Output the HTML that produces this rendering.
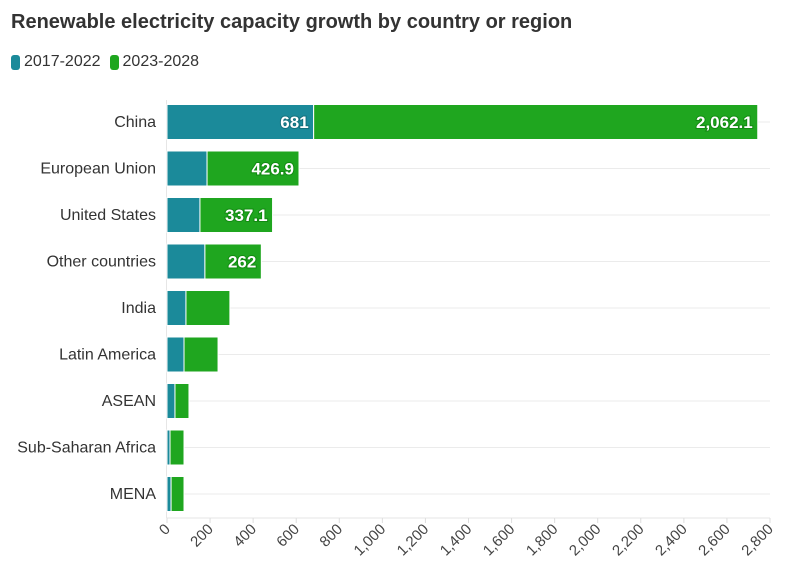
<!DOCTYPE html>
<html><head><meta charset="utf-8"><style>
body{margin:0;background:#fff;font-family:"Liberation Sans",sans-serif;}
#wrap{position:relative;width:796px;height:586px;overflow:hidden}
</style></head><body>
<div id="wrap">
<div style="position:absolute;left:11px;top:11px;font-size:20px;font-weight:bold;color:#333">Renewable electricity capacity growth by country or region</div>
<div style="position:absolute;left:11px;top:53px;font-size:16px;color:#333;display:flex;align-items:center">
<span style="display:flex;align-items:center"><span style="display:inline-block;width:9px;height:15px;border-radius:3px;background:#1b8a9a;margin-right:4px"></span>2017-2022</span>
<span style="display:flex;align-items:center;margin-left:9px"><span style="display:inline-block;width:9px;height:15px;border-radius:3px;background:#1fa61f;margin-right:4px"></span>2023-2028</span>
</div>
<svg id="svg" width="796" height="586" style="position:absolute;left:0;top:0"></svg>
</div>
<script>
const categories=["China","European Union","United States","Other countries","India","Latin America","ASEAN","Sub-Saharan Africa","MENA"];
const series1=[681,186,153,176,88,79,37,14,19];
const series2=[2062.1,426.9,337.1,262,204,158,65,65,60];
const labels1=["681","","","","","","","",""];
const labels2=["2,062.1","426.9","337.1","262","","","","",""];
const ticks=[0,200,400,600,800,1000,1200,1400,1600,1800,2000,2200,2400,2600,2800];
const tickLabels=["0","200","400","600","800","1,000","1,200","1,400","1,600","1,800","2,000","2,200","2,400","2,600","2,800"];
const svg=document.getElementById('svg');const NS='http://www.w3.org/2000/svg';
const x0=167,x1=770,xmax=2800;
function X(v){return x0+v/xmax*(x1-x0);}
function Y(i){return 122+i*46.5;}
const bh=35;
function mk(t,a){const e=document.createElementNS(NS,t);for(const k in a)e.setAttribute(k,a[k]);svg.appendChild(e);return e;}
categories.forEach((c,i)=>{
 const g=mk('line',{x1:x0,x2:x1,y1:Y(i),y2:Y(i),stroke:'#ebebeb'});
 
 
});
const ax=mk('line',{x1:x0,x2:x1,y1:518,y2:518,stroke:'#e6e6e6'});


const ay=mk('line',{x1:x0-0.5,x2:x0-0.5,y1:100,y2:518,stroke:'#e6e6e6'});


ticks.forEach((t,i)=>{
 const tk=mk('line',{x1:X(t),x2:X(t),y1:518,y2:523,stroke:'#ddd'});
 
 
 const tx=mk('text',{x:X(t)+4,y:530,'text-anchor':'end',transform:`rotate(-45 ${X(t)+4} 530)`,'font-size':15,fill:'#444','font-family':'Liberation Sans, sans-serif'});
 tx.textContent=tickLabels[i];
 
 
});
categories.forEach((c,i)=>{
 const y=Y(i);
 const l=mk('text',{x:156,y:y+5,'text-anchor':'end','font-size':16,fill:'#333'});
 l.textContent=c;
 
 
 const b1=mk('rect',{x:X(0),y:y-bh/2,width:X(series1[i])-X(0),height:bh,fill:'#1b8a9a',stroke:'#fff','stroke-width':1});
 
 
 const b2=mk('rect',{x:X(series1[i]),y:y-bh/2,width:X(series1[i]+series2[i])-X(series1[i]),height:bh,fill:'#1fa61f',stroke:'#fff','stroke-width':1});
 
 
 if(labels1[i]){const t=mk('text',{x:X(series1[i])-5,y:y+6,'text-anchor':'end','font-size':17,'font-weight':'bold',fill:'#fff',stroke:'#136f7c','stroke-width':2,'paint-order':'stroke'});t.textContent=labels1[i];
 
 }
 if(labels2[i]){const t=mk('text',{x:X(series1[i]+series2[i])-5,y:y+6,'text-anchor':'end','font-size':17,'font-weight':'bold',fill:'#fff',stroke:'#128a12','stroke-width':2,'paint-order':'stroke'});t.textContent=labels2[i];
 
 }
});
</script>
</body></html>
